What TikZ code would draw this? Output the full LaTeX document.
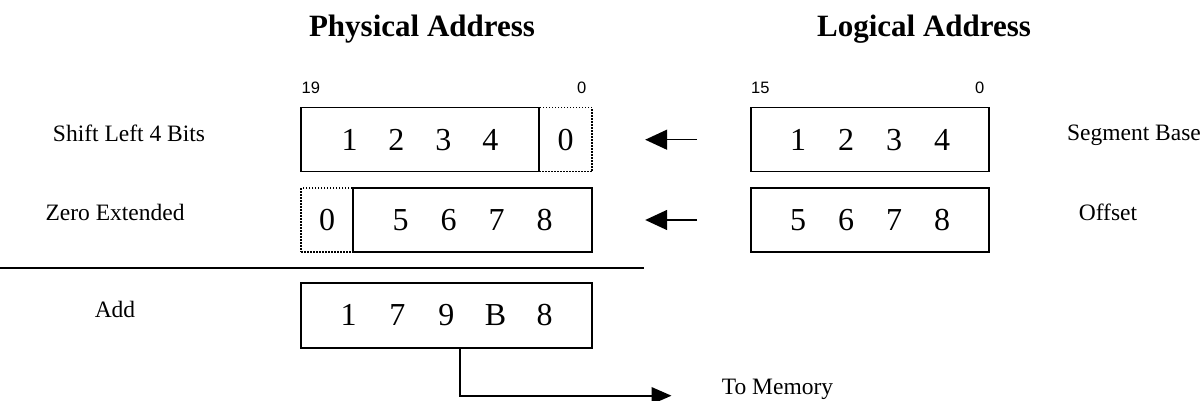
\documentclass[tikz,border=0pt]{standalone}
\usepackage{fontspec}
\setmainfont{Liberation Serif}
\newfontfamily\bitfont{Liberation Sans}
\usetikzlibrary{arrows.meta}
\newcommand\dg[2][47pt]{\makebox[#1]{#2}}
\begin{document}
\begin{tikzpicture}[x=1pt,y=-1pt,
  reg/.style={draw, line width=1.6pt, minimum height=64pt, inner sep=0pt,
    font=\fontsize{32}{32}\selectfont},
  ext/.style={draw, line width=1.6pt, dash pattern=on 1.5pt off 1.5pt,
    minimum height=64pt, inner sep=0pt, font=\fontsize{32}{32}\selectfont},
  lbl/.style={inner sep=0pt, anchor=base, font=\fontsize{23.5}{24}\selectfont},
  ttl/.style={inner sep=0pt, anchor=base, font=\fontsize{31}{32}\selectfont\bfseries},
  bit/.style={inner sep=0pt, font=\bitfont\fontsize{16.5}{17}\selectfont},
  arr/.style={-{Triangle[length=22pt,width=20pt]}, line width=1.6pt},
  arrb/.style={-{Triangle[length=20pt,width=17pt]}, line width=1.6pt}
]
\useasboundingbox (0,0) rectangle (1203,401);

% titles
\node[ttl] (tp) at (422,37) {Physical Address};
\node[ttl] (tl) at (924,37) {Logical Address};

% bit numbers
\node[bit, anchor=base west] (b19) at (301.5,94) {19};
\node[bit, anchor=base east] (b0a) at (586.5,93.5) {0};
\node[bit, anchor=base west] (b15) at (751,93.5) {15};
\node[bit, anchor=base east] (b0b) at (984.5,93.5) {0};

% row 1
\node[ext, minimum width=53pt] (z1) at (565.5,139.7) {0};
\node[reg, minimum width=238pt] (pa) at (420,139.7) {\dg1\dg2\dg3\dg4};
\node[reg, minimum width=238pt] (sb) at (870,139.7) {\dg[48pt]1\dg[48pt]2\dg[48pt]3\dg[48pt]4};

% row 2
\node[ext, minimum width=52pt] (z2) at (327,220) {0};
\node[reg, minimum width=239pt] (po) at (472.5,220) {\dg[48pt]5\dg[48pt]6\dg[48pt]7\dg[48pt]8};
\node[reg, minimum width=238pt] (of) at (870,220) {\dg[48pt]5\dg[48pt]6\dg[48pt]7\dg[48pt]8};

% sum
\node[reg, minimum width=291pt, minimum height=65pt] (sum) at (446.5,315.5)
  {\dg[49pt]1\dg[49pt]7\dg[49pt]9\dg[49pt]B\dg[49pt]8};

% side labels
\node[lbl] (l1) at (129,141.5) {Shift Left 4 Bits};
\node[lbl] (l2) at (115,221) {Zero Extended};
\node[lbl] (l3) at (115,317) {Add};
\node[lbl] (l4) at (1134,141) {Segment Base};
\node[lbl] (l5) at (1108,221) {Offset};
\node[lbl] (l6) at (777.5,394) {To Memory};

% separator
\coordinate (s1) at (0,267.7);
\coordinate (s2) at (644,267.7);
\draw[line width=1.6pt] (s1) -- (s2);

% arrows
\draw[arr] ([xshift=-53pt]sb.west) -- ([xshift=-105pt]sb.west);
\draw[arr] ([xshift=-53pt]of.west) -- ([xshift=-105pt]of.west);
\coordinate (mem) at (671.5,395.7);
\draw[arrb] ([xshift=13.5pt]sum.south) |- (mem);
\end{tikzpicture}
\end{document}
